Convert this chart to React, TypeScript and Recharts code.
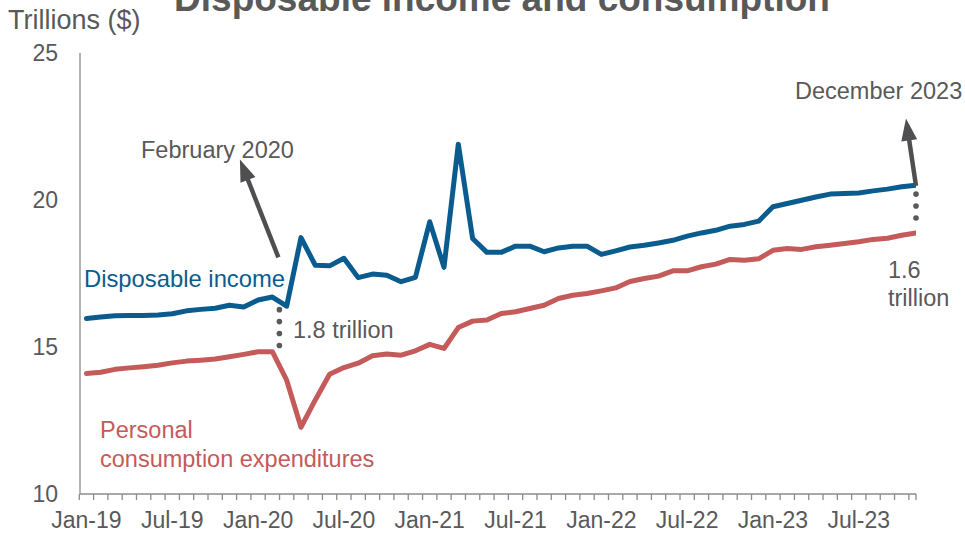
import { Line, LineChart, ReferenceLine, XAxis, YAxis } from 'recharts'

const months = [
  'Jan-19', 'Feb-19', 'Mar-19', 'Apr-19', 'May-19', 'Jun-19', 'Jul-19', 'Aug-19', 'Sep-19', 'Oct-19', 'Nov-19', 'Dec-19',
  'Jan-20', 'Feb-20', 'Mar-20', 'Apr-20', 'May-20', 'Jun-20', 'Jul-20', 'Aug-20', 'Sep-20', 'Oct-20', 'Nov-20', 'Dec-20',
  'Jan-21', 'Feb-21', 'Mar-21', 'Apr-21', 'May-21', 'Jun-21', 'Jul-21', 'Aug-21', 'Sep-21', 'Oct-21', 'Nov-21', 'Dec-21',
  'Jan-22', 'Feb-22', 'Mar-22', 'Apr-22', 'May-22', 'Jun-22', 'Jul-22', 'Aug-22', 'Sep-22', 'Oct-22', 'Nov-22', 'Dec-22',
  'Jan-23', 'Feb-23', 'Mar-23', 'Apr-23', 'May-23', 'Jun-23', 'Jul-23', 'Aug-23', 'Sep-23', 'Oct-23', 'Nov-23',
]

const tickLabels = ['Jan-19', 'Jul-19', 'Jan-20', 'Jul-20', 'Jan-21', 'Jul-21', 'Jan-22', 'Jul-22', 'Jan-23', 'Jul-23']

// trillions of dollars
const disposableIncome = [
  15.97, 16.02, 16.06, 16.07, 16.07, 16.09, 16.13, 16.23, 16.28, 16.32, 16.42, 16.36,
  16.6, 16.7, 16.39, 18.72, 17.78, 17.76, 18.02, 17.36, 17.48, 17.44, 17.22, 17.37,
  19.26, 17.71, 21.9, 18.69, 18.22, 18.22, 18.43, 18.43, 18.24, 18.37, 18.43, 18.43,
  18.15, 18.27, 18.4, 18.46, 18.54, 18.63, 18.77, 18.88, 18.97, 19.11, 19.17, 19.28,
  19.77, 19.88, 19.99, 20.1, 20.2, 20.22, 20.24, 20.31, 20.37, 20.45, 20.5,
]

const consumption = [
  14.1, 14.14, 14.24, 14.29, 14.33, 14.38, 14.46, 14.52, 14.55, 14.59, 14.67, 14.75,
  14.84, 14.84, 13.87, 12.27, 13.2, 14.07, 14.3, 14.45, 14.7, 14.76, 14.72, 14.87,
  15.09, 14.95, 15.66, 15.88, 15.92, 16.14, 16.2, 16.31, 16.42, 16.65, 16.76, 16.82,
  16.91, 17.01, 17.23, 17.33, 17.41, 17.59, 17.59, 17.73, 17.82, 17.98, 17.95, 18.0,
  18.29, 18.35, 18.32, 18.41, 18.46, 18.52, 18.58, 18.66, 18.7, 18.8, 18.88,
]

const yTicks = [10, 15, 20, 25]

const data = months.map((m, i) => ({
  i,
  month: m,
  income: disposableIncome[i],
  pce: consumption[i],
}))

const BLUE = '#0B5C8E'
const RED = '#C55A5A'
const GRAY = '#595959'
const AXIS = '#8C8C8C'
const ARROW = '#4F4F51'
const FONT = "'Liberation Sans', Arial, sans-serif"
const HALF_STEP = 7.15

function MonthTick(props: any) {
  const { x, y, payload } = props
  const label = months[payload.value]
  const isLast = payload.value === months.length - 1
  return (
    <g>
      <line x1={x - HALF_STEP} y1={y} x2={x - HALF_STEP} y2={y + 6} stroke={AXIS} strokeWidth={1.3} />
      {isLast && <line x1={x} y1={y} x2={x} y2={y + 6} stroke={AXIS} strokeWidth={1.3} />}
      {tickLabels.includes(label) && (
        <text x={x} y={y + 34} textAnchor="middle" fill={GRAY} fontSize={23} fontFamily={FONT}>
          {label}
        </text>
      )}
    </g>
  )
}

function Arrow(props: any) {
  const { x1, y1, x2, y2 } = props
  const dx = x2 - x1
  const dy = y2 - y1
  const len = Math.hypot(dx, dy)
  const ux = dx / len
  const uy = dy / len
  const headLen = 22
  const headW = 8
  const bx = x2 - ux * headLen
  const by = y2 - uy * headLen
  return (
    <g>
      <line x1={x1} y1={y1} x2={bx + ux * 2} y2={by + uy * 2} stroke={ARROW} strokeWidth={4.5} />
      <polygon
        points={`${x2},${y2} ${bx - uy * headW},${by + ux * headW} ${bx + uy * headW},${by - ux * headW}`}
        fill={ARROW}
      />
    </g>
  )
}

// dotted connector: one round dot every 12px along the segment
function Dots(props: any) {
  const { x1, y1, x2, y2 } = props
  const n = Math.round(Math.hypot(x2 - x1, y2 - y1) / 12)
  return (
    <g>
      {Array.from({ length: n + 1 }, (_, k) => (
        <circle
          key={k}
          cx={x1 + ((x2 - x1) * k) / n}
          cy={y1 + ((y2 - y1) * k) / n}
          r={2.8}
          fill={GRAY}
        />
      ))}
    </g>
  )
}

export default function App() {
  return (
    <div style={{ position: 'absolute', left: 0, top: 0, width: 965, height: 533, background: '#fff' }}>
      <LineChart
        width={965}
        height={533}
        data={data}
        margin={{ top: 53, right: 49, bottom: 0, left: 20 }}
      >
        <XAxis
          type="number"
          dataKey="i"
          domain={[-0.45, 58]}
          allowDataOverflow
          ticks={months.map((_, i) => i)}
          interval={0}
          tick={<MonthTick />}
          tickLine={false}
          tickSize={0}
          tickMargin={0}
          height={39}
          axisLine={{ stroke: AXIS, strokeWidth: 1.3 }}
        />
        <YAxis
          domain={[10, 25]}
          ticks={yTicks}
          width={60}
          tickLine={false}
          tickSize={0}
          tickMargin={22}
          axisLine={{ stroke: AXIS, strokeWidth: 1.3 }}
          tick={{ fill: GRAY, fontSize: 23, fontFamily: FONT }}
        />
        <Line
          type="linear"
          dataKey="pce"
          stroke={RED}
          strokeWidth={5}
          dot={false}
          strokeLinejoin="round"
          strokeLinecap="round"
          isAnimationActive={false}
        />
        <Line
          type="linear"
          dataKey="income"
          stroke={BLUE}
          strokeWidth={5}
          dot={false}
          strokeLinejoin="round"
          strokeLinecap="round"
          isAnimationActive={false}
        />
        <ReferenceLine segment={[{ x: 13.49, y: 16.27 }, { x: 13.49, y: 15.05 }]} shape={Dots} />
        <ReferenceLine segment={[{ x: 58, y: 20.2 }, { x: 58, y: 19.39 }]} shape={Dots} />
        <ReferenceLine segment={[{ x: 13.42, y: 18.05 }, { x: 10.73, y: 21.38 }]} shape={Arrow} />
        <ReferenceLine segment={[{ x: 58.0, y: 20.48 }, { x: 57.3, y: 22.77 }]} shape={Arrow} />
      </LineChart>
      <svg
        width={965}
        height={533}
        style={{ position: 'absolute', left: 0, top: 0, pointerEvents: 'none' }}
        fontFamily={FONT}
      >
        <text x={502} y={11} textAnchor="middle" fontSize={37} fontWeight="bold" fill={GRAY}>
          Disposable income and consumption
        </text>
        <text x={8} y={29} fontSize={27} fill={GRAY}>
          Trillions ($)
        </text>
        <text x={84} y={287} fontSize={23.8} fill={BLUE}>
          Disposable income
        </text>
        <text x={141} y={158} fontSize={23.5} fill={GRAY}>
          February 2020
        </text>
        <text x={293} y={338} fontSize={23.5} fill={GRAY}>
          1.8 trillion
        </text>
        <text x={795} y={99} fontSize={23.5} fill={GRAY}>
          December 2023
        </text>
        <text x={888} y={278} fontSize={23.5} fill={GRAY}>
          1.6
        </text>
        <text x={888} y={306} fontSize={23.5} fill={GRAY}>
          trillion
        </text>
        <text x={100} y={438} fontSize={23.5} fill={RED}>
          Personal
        </text>
        <text x={100} y={467} fontSize={23.5} fill={RED}>
          consumption expenditures
        </text>
      </svg>
    </div>
  )
}
